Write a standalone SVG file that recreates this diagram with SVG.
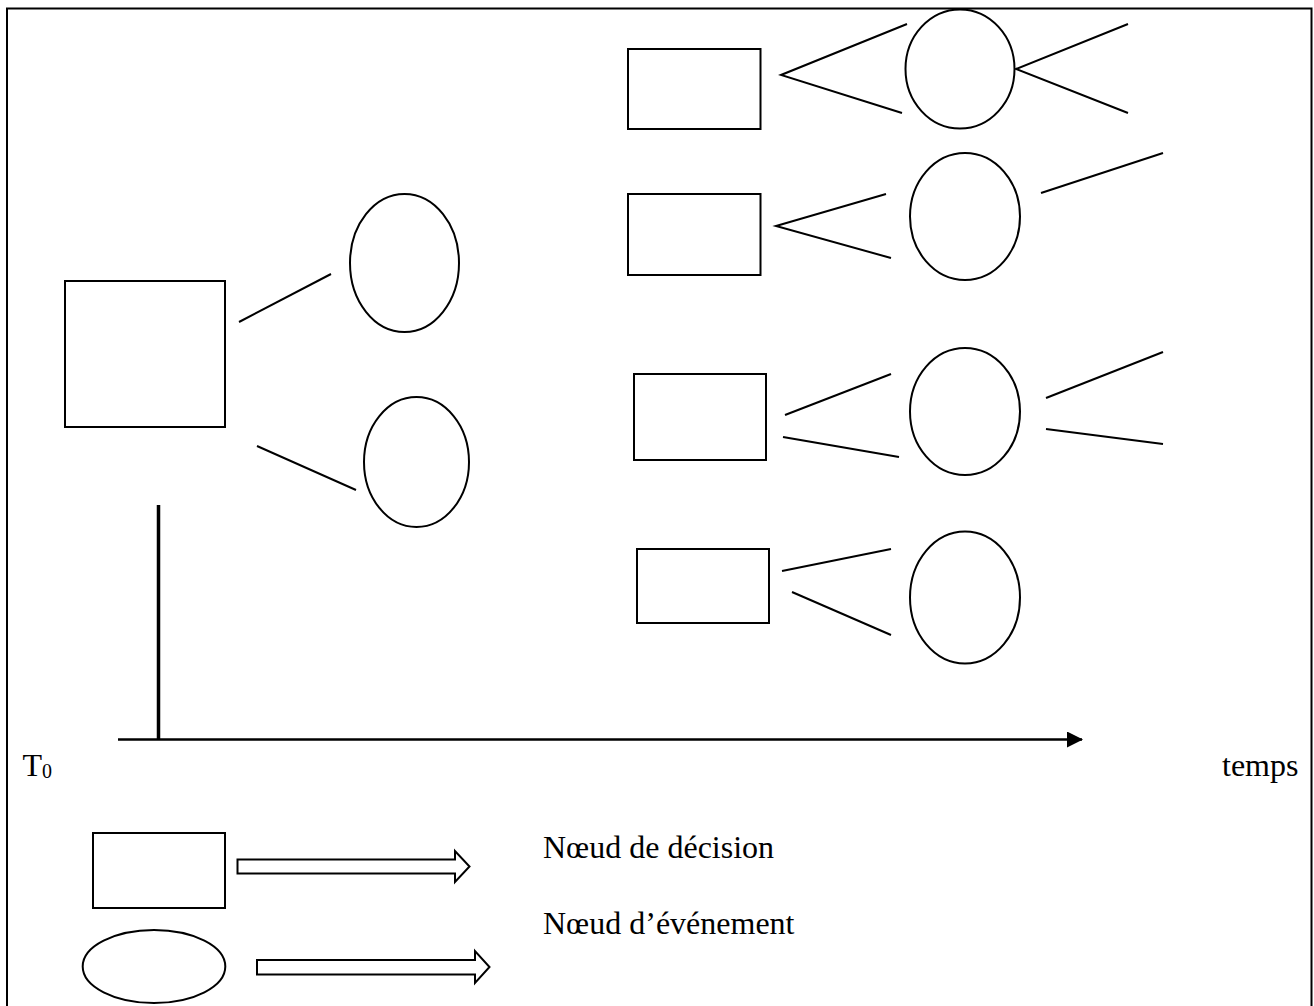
<svg xmlns="http://www.w3.org/2000/svg" width="1314" height="1006" viewBox="0 0 1314 1006">
<style>
.s{fill:none;stroke:#000;stroke-width:2}
.n{fill:#fff;stroke:#000;stroke-width:2}
.t{font-family:"Liberation Serif","Times New Roman",serif;font-size:32px;fill:#000}
</style>
<defs>
<marker id="ah" viewBox="0 0 16 16" refX="15" refY="8" markerWidth="16" markerHeight="16" markerUnits="userSpaceOnUse" orient="auto">
<path d="M0,0 L16,8 L0,16 Z" fill="#000"/>
</marker>
</defs>
<rect width="1314" height="1006" fill="#fff"/>
<path d="M7,1006 V8.5 H1311.5 V1006" fill="none" stroke="#000" stroke-width="2"/>

<g id="connectors" class="s">
<line x1="239" y1="322" x2="331" y2="274"/>
<line x1="257" y1="446" x2="356" y2="490"/>
<polyline points="907,24 781,75 902,113"/>
<polyline points="1128,24 1016,69 1128,113"/>
<polyline points="886,194 776,226 891,258"/>
<line x1="1041" y1="193" x2="1163" y2="153"/>
<line x1="785" y1="415" x2="891" y2="374"/>
<line x1="783" y1="437" x2="899" y2="457"/>
<line x1="1046" y1="398" x2="1163" y2="352"/>
<line x1="1046" y1="429" x2="1163" y2="444"/>
<line x1="782" y1="571" x2="891" y2="549"/>
<line x1="792" y1="592" x2="891" y2="635"/>
</g>

<g id="axes">
<line x1="158.5" y1="505" x2="158.5" y2="740" stroke="#000" stroke-width="3.5"/>
<line x1="118" y1="739.5" x2="1082" y2="739.5" stroke="#000" stroke-width="2.5" marker-end="url(#ah)"/>
</g>

<g id="decision-root"><rect class="n" x="65" y="281" width="160" height="146"/></g>
<g id="event-1"><ellipse class="n" cx="404.5" cy="263" rx="54.5" ry="69"/></g>
<g id="event-2"><ellipse class="n" cx="416.5" cy="462" rx="52.5" ry="65"/></g>

<g id="decision-a"><rect class="n" x="628" y="49" width="132.5" height="80"/></g>
<g id="event-a"><ellipse class="n" cx="960" cy="69" rx="54.5" ry="59.5"/></g>
<g id="decision-b"><rect class="n" x="628" y="194" width="132.5" height="81"/></g>
<g id="event-b"><ellipse class="n" cx="965" cy="216.5" rx="55" ry="63.5"/></g>
<g id="decision-c"><rect class="n" x="634" y="374" width="132" height="86"/></g>
<g id="event-c"><ellipse class="n" cx="965" cy="411.5" rx="55" ry="63.5"/></g>
<g id="decision-d"><rect class="n" x="637" y="549" width="132" height="74"/></g>
<g id="event-d"><ellipse class="n" cx="965" cy="597.5" rx="55" ry="66"/></g>

<g id="labels">
<text class="t" x="22.5" y="776">T<tspan font-size="20" dy="2">0</tspan></text>
<text class="t" x="1222" y="776">temps</text>
</g>

<g id="legend">
<g id="legend-decision"><rect class="n" x="93" y="833" width="132" height="75"/></g>
<g id="legend-event"><ellipse class="n" cx="154" cy="966.5" rx="71.3" ry="36.5"/></g>
<g id="legend-arrow-1"><path class="n" d="M237.5,859.5 H455 V851 L469.5,866.5 L455,882 V873.5 H237.5 Z"/></g>
<g id="legend-arrow-2"><path class="n" d="M257,960 H475 V951 L489.5,967 L475,983 V974.5 H257 Z"/></g>
<text class="t" x="543" y="858">Nœud de décision</text>
<text class="t" x="543" y="934">Nœud d’événement</text>
</g>
</svg>
